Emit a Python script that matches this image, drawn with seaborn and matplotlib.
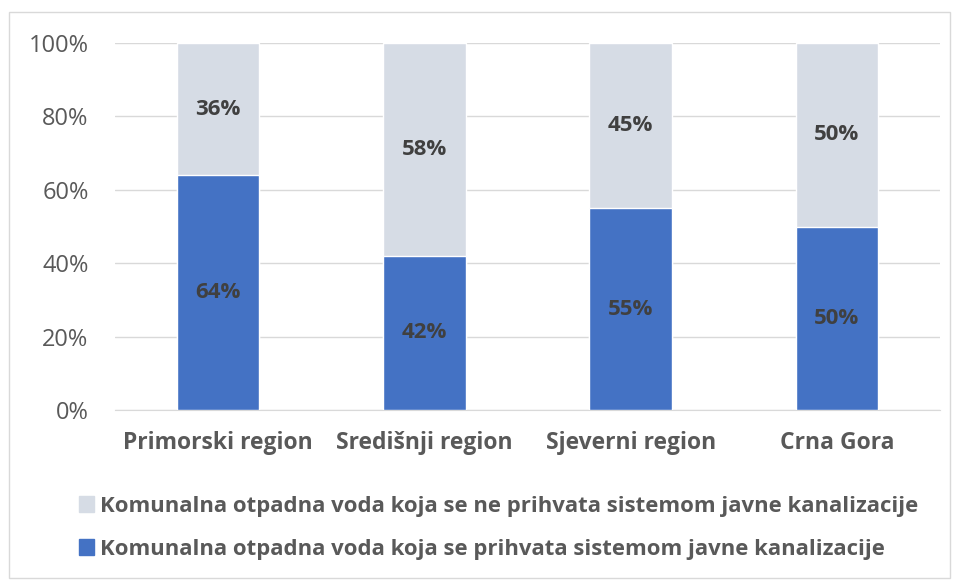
import matplotlib
matplotlib.use("Agg")
import matplotlib.pyplot as plt
import matplotlib.patches as mpatches
import seaborn as sns
import pandas as pd

regions = ["Primorski region", "Središnji region", "Sjeverni region", "Crna Gora"]
prihvata = [64, 42, 55, 50]
ne_prihvata = [36, 58, 45, 50]
label_ne = "Komunalna otpadna voda koja se ne prihvata sistemom javne kanalizacije"
label_da = "Komunalna otpadna voda koja se prihvata sistemom javne kanalizacije"

blue = "#4472C4"
grey = "#D6DCE5"
txt = "#595959"

sns.set_style("white")
plt.rcParams["font.family"] = ["Open Sans", "DejaVu Sans"]

df = pd.DataFrame({"region": regions, "da": prihvata, "ne": ne_prihvata})
df["total"] = df["da"] + df["ne"]

fig = plt.figure(figsize=(9.56, 5.81), dpi=100)
ax = fig.add_axes([115 / 956, 1 - 410 / 581, 825 / 956, 367 / 581])

# grey = total (100%), blue drawn over it
sns.barplot(data=df, x="region", y="total", color=grey, width=0.4, ax=ax, saturation=1, zorder=2)
sns.barplot(data=df, x="region", y="da", color=blue, width=0.4, ax=ax, saturation=1, zorder=3)

for i, (a, b) in enumerate(zip(prihvata, ne_prihvata)):
    ax.text(i, a / 2, f"{a}%", ha="center", va="center", fontsize=16,
            fontweight="bold", color="#404040", zorder=4)
    ax.text(i, a + b / 2, f"{b}%", ha="center", va="center", fontsize=16,
            fontweight="bold", color="#404040", zorder=4)

ax.set_ylim(0, 100)
ax.set_yticks(range(0, 101, 20))
ax.set_yticklabels([f"{v}%" for v in range(0, 101, 20)], fontsize=17, color=txt)
ax.set_xticks(range(len(regions)))
ax.set_xticklabels(regions, fontsize=16.5, fontweight="bold", color=txt)
ax.set_xlim(-0.5, len(regions) - 0.5)
ax.set_xlabel("")
ax.set_ylabel("")
ax.yaxis.grid(True, color="#D9D9D9", linewidth=1, zorder=0)
ax.set_axisbelow(True)
for s in ["top", "right", "left"]:
    ax.spines[s].set_visible(False)
ax.spines["bottom"].set_color("#D9D9D9")
ax.tick_params(axis="both", length=0)
ax.tick_params(axis="y", pad=19)
ax.tick_params(axis="x", pad=15)

handles = [mpatches.Patch(color=grey, label=label_ne), mpatches.Patch(color=blue, label=label_da)]
fig.legend(handles=handles, loc="upper left", bbox_to_anchor=(70 / 956, 1 - 487 / 581),
           frameon=False, ncol=1, prop={"size": 15.9, "weight": "bold"},
           labelcolor=txt, handlelength=0.7, handleheight=0.7, handletextpad=0.25,
           labelspacing=1.0, borderaxespad=0)

border = mpatches.Rectangle((9 / 956, 1 - 578 / 581), 941 / 956, 566 / 581,
                            transform=fig.transFigure, fill=False,
                            edgecolor="#D9D9D9", linewidth=1)
fig.patches.append(border)

fig.savefig("out.png", dpi=100)
